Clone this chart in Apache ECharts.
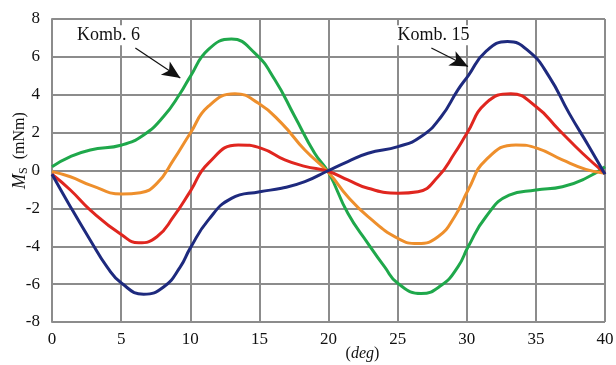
<!DOCTYPE html>
<html><head><meta charset="utf-8">
<script src="https://cdn.jsdelivr.net/npm/echarts@6/dist/echarts.min.js"></script>
<style>html,body{margin:0;padding:0;background:#fff}#c{width:616px;height:365px}</style>
</head><body><div id="c"></div>
<script>
// x (deg) values and M_S (mNm) values for each curve
const greenX = [0,1.33,2.77,5.06,6.63,8.07,9.28,10,11.3,12.98,14.67,16.12,17.56,19.0,20,21.4,22.86,24.06,25.03,26.7,28.16,29.36,30.1,31.39,33.07,35,36.92,38.61,40];
const greenY = [0.2,0.73,1.08,1.35,1.88,2.85,4.08,4.96,6.38,6.94,6.2,4.79,2.85,0.91,-0.1,-2.26,-3.86,-5.09,-5.97,-6.5,-6.06,-5.09,-4.03,-2.44,-1.3,-1.03,-0.86,-0.41,0.2];
const orangeX = [0,1.33,2.77,5.06,6.39,7.59,8.79,10,11.3,13.23,14.91,16.6,18.29,20,21.4,22.86,25.03,26.47,27.92,29.12,30.1,31.39,33.55,35.12,36.92,38.61,40];
const orangeY = [-0.06,-0.33,-0.77,-1.24,-1.17,-0.68,0.56,1.97,3.38,4.05,3.56,2.5,1.08,-0.1,-1.39,-2.44,-3.59,-3.86,-3.5,-2.44,-1.03,0.56,1.35,1.17,0.56,0.06,-0.15];
const redX = [0,1.33,2.77,5.06,6.27,7.59,8.79,10,11.3,13.47,15.15,16.84,18.29,20,21.4,22.86,25.03,26.47,27.92,29.12,30,31.39,33.19,35,36.68,38.37,40];
const redY = [-0.2,-1.03,-2.09,-3.41,-3.82,-3.5,-2.44,-1.1,0.38,1.35,1.17,0.56,0.22,-0.05,-0.5,-0.94,-1.2,-1.12,-0.33,0.91,1.95,3.56,4.05,3.38,2.14,0.91,-0.15];
const blueX = [0,1.33,2.77,3.98,5.06,6.63,8.07,9.28,10,11.3,12.98,15.03,16.6,18.29,20,21.4,22.86,25.03,26.7,28.16,29.36,30.1,31.39,32.95,34.5,35.96,37.4,38.85,40];
const blueY = [-0.2,-1.91,-3.68,-5.09,-5.97,-6.53,-6.15,-5.09,-4.1,-2.62,-1.47,-1.12,-0.94,-0.59,0,0.47,0.91,1.26,1.79,2.85,4.26,5.0,6.29,6.81,6.29,4.96,3.03,1.26,-0.2];
const xTicks = [0,5,10,15,20,25,30,35,40];
const yTicks = [-8,-6,-4,-2,0,2,4,6,8];
const notes = [
  {text:'Komb. 6', at:[4.08,7.14], from:[6.03,6.47], to:[9.28,4.88]},
  {text:'Komb. 15', at:[27.6,7.14], from:[27.44,6.47], to:[30.09,5.49]}
];

const pair = (xs, ys) => xs.map((x,i)=>[x, ys[i]]);
const font = 'Liberation Serif';
const grid = '#8c8c8c';
const chart = echarts.init(document.getElementById('c'));
const mk = (name, xs, ys, color) => ({
  name, type:'line', data: pair(xs, ys), smooth: 0.5, showSymbol:false,
  lineStyle:{color, width:3}, itemStyle:{color}, z:3
});
const series = [
  mk('green', greenX, greenY, '#1fa84b'),
  mk('orange', orangeX, orangeY, '#ee8f2c'),
  mk('red', redX, redY, '#e0261f'),
  mk('blue', blueX, blueY, '#1e2a7e')
];
series.push({
  type:'line', data:[], silent:true,
  markLine:{silent:true, symbol:['none','arrow'], symbolSize:[12,18],
    lineStyle:{color:'#111', width:1.2, type:'solid'}, label:{show:false},
    data: notes.map(n=>[{coord:n.from},{coord:n.to}])},
  markPoint:{silent:true, symbol:'rect', symbolSize:1, itemStyle:{color:'rgba(0,0,0,0)'},
    label:{show:true, position:'inside', color:'#111', fontFamily:font, fontSize:18,
      backgroundColor:'#fff', padding:[1,3], formatter: p=>p.name},
    data: notes.map(n=>({name:n.text, coord:n.at}))}
});
chart.setOption({
  animation:false,
  backgroundColor:'#fff',
  grid:{left:52, right:11, top:19, bottom:43, outerBoundsMode:'none', containLabel:false},
  xAxis:{type:'value', min:xTicks[0], max:xTicks[xTicks.length-1], interval:5,
    name:'{p|(}{i|deg}{p|)}', nameLocation:'middle', nameGap:24, nameMoveOverlap:false,
    nameTextStyle:{padding:[0,0,0,68], rich:{p:{fontFamily:font,fontSize:16,color:'#111'}, i:{fontFamily:font,fontSize:16,fontStyle:'italic',color:'#111'}}},
    axisLine:{lineStyle:{color:grid,width:2}}, axisTick:{show:false},
    axisLabel:{fontFamily:font, fontSize:17, color:'#111', margin:9},
    splitLine:{show:true, lineStyle:{color:grid, width:2}}},
  yAxis:{type:'value', min:yTicks[0], max:yTicks[yTicks.length-1], interval:2,
    name:'{i|M}{s|S}{p|  (mNm)}', nameLocation:'middle', nameGap:22, nameRotate:90, nameMoveOverlap:false,
    nameTextStyle:{padding:[0,0,0,40], rich:{p:{fontFamily:font,fontSize:16,color:'#111'}, i:{fontFamily:font,fontSize:18,fontStyle:'italic',color:'#111'}, s:{fontFamily:font,fontSize:12,color:'#111',verticalAlign:'bottom',padding:[8,0,0,0]}}},
    axisLine:{show:true, lineStyle:{color:grid,width:2}}, axisTick:{show:false},
    axisLabel:{fontFamily:font, fontSize:17, color:'#111', margin:12},
    splitLine:{show:true, lineStyle:{color:grid, width:2}}},
  series
});
</script></body></html>
